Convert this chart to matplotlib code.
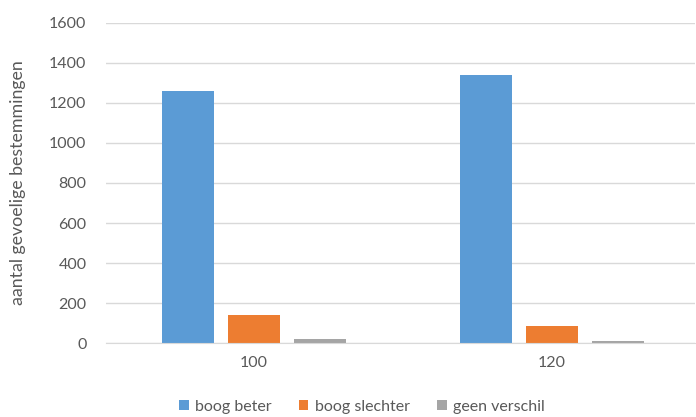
import numpy as np
from matplotlib import pyplot as plt

plt.rcParams['font.family'] = ['Lato', 'DejaVu Sans']

categories = ['100', '120']
series_names = ['boog beter', 'boog slechter', 'geen verschil']
boog_beter = [1261, 1337]
boog_slechter = [143, 86]
geen_verschil = [20, 10]
colors = ['#5B9BD5', '#ED7D31', '#A5A5A5']
text_color = '#595959'
grid_color = '#D9D9D9'

fig = plt.figure(figsize=(6.96, 4.17), dpi=100)
ax = fig.add_axes([106 / 696, 1 - 343.3 / 417, (695 - 106) / 696, (343.3 - 22.7) / 417])

x = np.arange(len(categories))
width = 0.174
step = 0.2225
for i, (name, values) in enumerate(zip(series_names, [boog_beter, boog_slechter, geen_verschil])):
    ax.bar(x + (i - 1) * step, values, width, color=colors[i], label=name, zorder=3)

ax.set_xlim(-0.497, 1.48)
ax.set_ylim(0, 1600)
ax.set_yticks(np.arange(0, 1601, 200))
ax.set_xticks(x)
ax.set_xticklabels(categories)
ax.tick_params(axis='both', length=0, labelsize=11.5, labelcolor=text_color)
ax.tick_params(axis='y', pad=14)
ax.tick_params(axis='x', pad=9)
ax.grid(axis='y', color=grid_color, linewidth=1, zorder=0)
for side in ['top', 'right', 'left']:
    ax.spines[side].set_visible(False)
ax.spines['bottom'].set_color(grid_color)
ax.spines['bottom'].set_zorder(4)

fig.text(18 / 696, 1 - 183 / 417, 'aantal gevoelige bestemmingen', rotation=90,
         ha='center', va='center', fontsize=12.8, color=text_color)

fig.legend(loc='center', bbox_to_anchor=(0.52, 1 - 407 / 417), ncol=3, frameon=False,
           fontsize=11.5, labelcolor=text_color, handlelength=0.6, handleheight=0.6,
           handletextpad=0.4, columnspacing=1.7)

fig.savefig('out.png', dpi=100)
